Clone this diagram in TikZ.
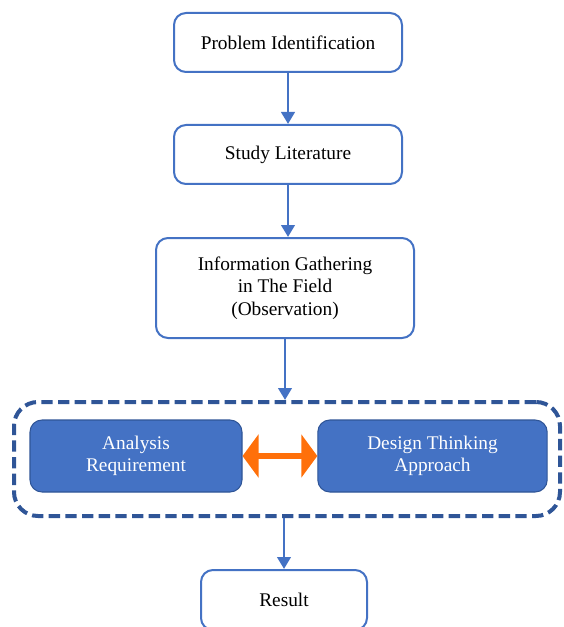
\documentclass[tikz,border=0pt]{standalone}
\usepackage{fontspec}
\setmainfont{Liberation Serif}
\usetikzlibrary{arrows.meta}
\usetikzlibrary{positioning}

\definecolor{flowblue}{RGB}{68,114,196}
\definecolor{darkblue}{RGB}{47,85,151}
\definecolor{swaporange}{RGB}{255,112,10}

\tikzset{
  stage/.style={draw=flowblue,line width=1.5pt,rounded corners=9pt,fill=white,align=center,
    inner sep=0pt,font=\fontsize{14.5}{16.8}\selectfont},
  subtask/.style={draw=darkblue,line width=0.8pt,fill=flowblue,text=white,rounded corners=9pt,
    align=center,inner sep=0pt,minimum height=54pt,font=\fontsize{14.5}{16.8}\selectfont},
  group/.style={draw=darkblue,line width=3pt,dash pattern=on 8.5pt off 4pt,rounded corners=18pt,
    minimum width=409.5pt,minimum height=85.5pt},
  flow/.style={draw=flowblue,line width=2.2pt,-{Triangle[length=9pt,width=10pt]}},
  swap/.style={draw=swaporange,line width=4pt,
    {Triangle[length=12pt,width=32pt]}-{Triangle[length=12pt,width=32pt]}},
}

\begin{document}
\begin{tikzpicture}[x=0.75pt,y=-0.75pt]

  \useasboundingbox (0,0) rectangle (563,627);

  \node [stage,minimum width=171pt,minimum height=44.25pt] (problem) at (288,42.5) {Problem Identification};
  \node [stage,minimum width=171pt,minimum height=44.25pt] (literature) at (288,154.5) {Study Literature};
  \node [stage,minimum width=193.5pt,minimum height=75pt] (gathering) at (285,288)
    {Information Gathering\\in The Field\\(Observation)};

  \node [group] (analysisgroup) at (287,459) {};
  \node [subtask,minimum width=159pt] (analysis) at (136,456) {Analysis\\Requirement};
  \node [subtask,minimum width=172pt] (design) at (432.5,456) {Design Thinking\\Approach};

  \node [stage,minimum width=124.5pt,minimum height=45pt] (result) at (284,600) {Result};

  \coordinate (groupin) at (gathering.south |- analysisgroup.north);
  \coordinate (groupout) at (result.north |- analysisgroup.south);

  \draw [flow] (problem) -- (literature);
  \draw [flow] (literature) -- (literature |- gathering.north);
  \draw [flow] (gathering) -- (groupin);
  \draw [flow] (groupout) -- (result);

  \draw [swap] (analysis) -- (design);

\end{tikzpicture}
\end{document}
